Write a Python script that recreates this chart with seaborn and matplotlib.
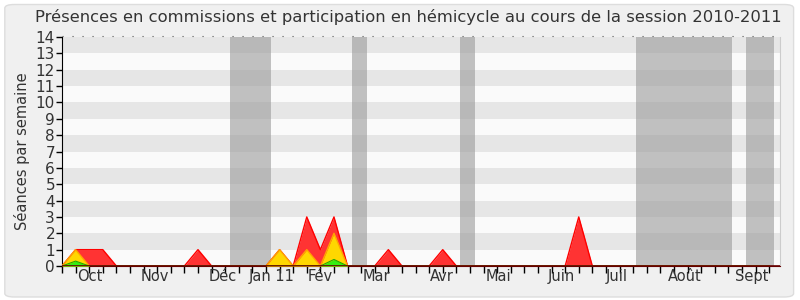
import numpy as np
import pandas as pd
import matplotlib
matplotlib.use("Agg")
import matplotlib.pyplot as plt
from matplotlib.patches import FancyBboxPatch
import seaborn as sns

# ---- data (weekly, session 2010-2011) ----
weeks = list(range(53))
total = [0, 1, 1, 1, 0, 0, 0, 0, 0, 0, 1, 0, 0, 0, 0, 0, 1, 0, 3, 1,
         3, 0, 0, 0, 1, 0, 0, 0, 1, 0, 0, 0, 0, 0, 0, 0, 0, 0, 3, 0,
         0, 0, 0, 0, 0, 0, 0, 0, 0, 0, 0, 0, 0]
hemicycle = [0, 1, 0, 0, 0, 0, 0, 0, 0, 0, 0, 0, 0, 0, 0, 0, 1, 0, 1, 0,
             2, 0, 0, 0, 0, 0, 0, 0, 0, 0, 0, 0, 0, 0, 0, 0, 0, 0, 0, 0,
             0, 0, 0, 0, 0, 0, 0, 0, 0, 0, 0, 0, 0]
interventions = [0, 0.3, 0, 0, 0, 0, 0, 0, 0, 0, 0, 0, 0, 0, 0, 0, 0, 0, 0, 0,
                 0.4, 0, 0, 0, 0, 0, 0, 0, 0, 0, 0, 0, 0, 0, 0, 0, 0, 0, 0, 0,
                 0, 0, 0, 0, 0, 0, 0, 0, 0, 0, 0, 0, 0]
vacations = [(12.35, 15.4), (21.3, 22.4), (29.3, 30.4), (42.2, 49.3), (50.3, 52.35)]
month_labels = ["Oct", "Nov", "Déc", "Jan 11", "Fév", "Mar", "Avr", "Mai",
                "Juin", "Juil", "Août", "Sept"]
month_pos = [2.06, 6.84, 11.84, 15.44, 18.97, 23.1, 27.9, 32.06, 36.7, 40.8, 45.8, 50.7]
title = "Présences en commissions et participation en hémicycle au cours de la session 2010-2011"
ylabel = "Séances par semaine"

df = pd.DataFrame({"week": weeks, "total": total, "hemicycle": hemicycle,
                   "interventions": interventions})

sns.set_style("white")
plt.rcParams["font.family"] = ["DejaVu Sans"]

fig = plt.figure(figsize=(8, 3), dpi=100, facecolor="white")
bg = FancyBboxPatch((0.006, 0.01), 0.986, 0.975, boxstyle="round,pad=0,rounding_size=0.012",
                    transform=fig.transFigure, facecolor="#F0F0F0", edgecolor="#DDDDDD",
                    linewidth=1, zorder=-10)
fig.patches.append(bg)

ax = fig.add_axes([0.0775, 0.1133, 0.8975, 0.7634])
ax.set_facecolor("#FAFAFA")
xmax = 52.8
ax.set_xlim(0, xmax)
ax.set_ylim(0, 14)

# horizontal bands
for k in range(1, 14, 2):
    ax.axhspan(k, k + 1, color="#E6E6E6", zorder=0, lw=0)
# vacation bands
for a, b in vacations:
    ax.axvspan(a, b, color="#9A9A9A", alpha=0.6, zorder=1, lw=0)

# stacked areas
ax.fill_between(df["week"], 0, df["total"], color="#FF3333", zorder=2, lw=0)
sns.lineplot(data=df, x="week", y="total", color="#FF0000", lw=1, ax=ax, zorder=3)
ax.fill_between(df["week"], 0, df["hemicycle"], color="#FFD700", zorder=4, lw=0)
sns.lineplot(data=df, x="week", y="hemicycle", color="#FFA500", lw=1, ax=ax, zorder=5)
ax.fill_between(df["week"], 0, df["interventions"], color="#33EE11", zorder=6, lw=0)
sns.lineplot(data=df, x="week", y="interventions", color="#22AA00", lw=0.8, ax=ax, zorder=7)
ax.axhline(0, color="#660000", lw=1.2, zorder=8)

# spines
ax.spines["top"].set_visible(False)
ax.spines["right"].set_visible(True)
ax.spines["right"].set_color("#CCCCCC")
ax.spines["left"].set_color("#000000")
ax.spines["bottom"].set_color("#660000")
ax.plot([0, xmax], [14.05, 14.05], ls=(0, (1, 8)), color="#555555", lw=0.8,
        clip_on=False, zorder=9)

ax.set_yticks(range(0, 15))
ax.set_yticklabels([str(i) for i in range(0, 15)], fontsize=11, color="#333333")
ax.tick_params(axis="y", length=4, width=1, color="#000000", pad=1, left=True)
ax.set_xticks(weeks)
ax.set_xticklabels([])
ax.tick_params(axis="x", which="major", length=5, width=1, color="#000000", bottom=True)
ax.set_xticks(month_pos, minor=True)
ax.set_xticklabels(month_labels, minor=True, fontsize=10.5, color="#333333")
ax.tick_params(axis="x", which="minor", length=0, pad=2)
ax.set_xlabel("")
ax.set_ylabel(ylabel, fontsize=10.5, color="#333333", labelpad=4)
fig.text(0.511, 0.97, title, fontsize=11.8, color="#333333", ha="center", va="top")
ax.grid(False)

fig.savefig("out.png", dpi=100, facecolor=fig.get_facecolor())
